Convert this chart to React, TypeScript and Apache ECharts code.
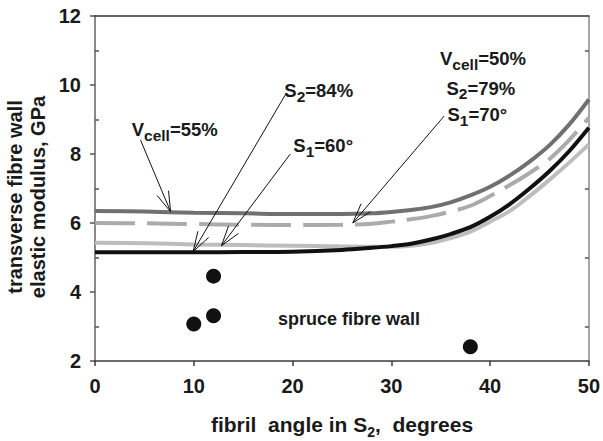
import React, { useEffect, useRef } from "react";
import * as echarts from "echarts";

// fibril angle in S2 (degrees)
const fibrilAngle = [0, 5, 10, 15, 20, 25, 28, 30, 32, 34, 36, 38, 40, 42, 44, 46, 48, 50];
// model curves: transverse elastic modulus (GPa)
const vcell55 = [6.35, 6.33, 6.3, 6.28, 6.26, 6.26, 6.28, 6.32, 6.38, 6.46, 6.6, 6.8, 7.05, 7.38, 7.78, 8.25, 8.85, 9.58];
const vcell50 = [6.0, 5.99, 5.97, 5.95, 5.94, 5.95, 5.98, 6.04, 6.11, 6.2, 6.33, 6.5, 6.78, 7.1, 7.45, 7.85, 8.4, 9.05];
const s1At60 = [5.43, 5.41, 5.38, 5.36, 5.34, 5.32, 5.31, 5.31, 5.34, 5.42, 5.56, 5.75, 6.04, 6.35, 6.78, 7.25, 7.75, 8.28];
const s2At84 = [5.15, 5.15, 5.15, 5.16, 5.17, 5.22, 5.28, 5.33, 5.4, 5.52, 5.68, 5.88, 6.18, 6.55, 7.0, 7.5, 8.08, 8.76];
// measured spruce fibre wall points
const measuredAngle = [12, 10, 12, 38];
const measuredModulus = [4.46, 3.07, 3.31, 2.41];
// annotation arrows (data coordinates)
const arrowTailX = [4.6, 19.36, 19.77, 35.35];
const arrowTailY = [8.41, 9.76, 8.0, 9.1];
const arrowHeadX = [7.65, 9.93, 12.8, 26.1];
const arrowHeadY = [6.33, 5.17, 5.34, 6.0];
// axis ticks
const xMin = 0, xMax = 50, xStep = 10;
const yMin = 2, yMax = 12, yStep = 2;

const FONT = "'Liberation Sans', Arial, Helvetica, sans-serif";
const INK = "#1a1a1a";

function richSub(mainSize: number, subSize: number, drop: number) {
  const L = 2 * (0.8465 * mainSize + drop - 0.3465 * subSize);
  return {
    m: { fontSize: mainSize, lineHeight: mainSize, verticalAlign: "top", fontWeight: "bold", fontFamily: FONT, fill: INK },
    s: { fontSize: subSize, lineHeight: L, verticalAlign: "middle", fontWeight: "bold", fontFamily: FONT, fill: INK },
  };
}

function subLabel(x: number, top: number, a: string, sub: string, b: string, mainSize = 18.5, subSize = 15.5, drop = 5) {
  return {
    type: "text",
    x,
    y: top - 0.1305 * mainSize,
    z: 20,
    silent: true,
    style: {
      text: `{m|${a}}{s|${sub}}{m|${b}}`,
      rich: richSub(mainSize, subSize, drop),
      textAlign: "left",
      textVerticalAlign: "top",
    },
  };
}

export default function App() {
  const ref = useRef<HTMLDivElement>(null);
  useEffect(() => {
    const chart = echarts.init(ref.current!, undefined, { renderer: "svg" });
    const pair = (ys: number[]) => fibrilAngle.map((x, i) => [x, ys[i]]);
    const curve = (name: string, ys: number[], color: string, dash?: number[]) => ({
      type: "line",
      name,
      data: pair(ys),
      smooth: 0.35,
      symbol: "none",
      showSymbol: false,
      lineStyle: { color, width: 4, type: dash ?? "solid", cap: "butt" },
      z: 2,
    });
    const labelStyle = { fontSize: 20, fontWeight: "bold", fontFamily: FONT, color: INK };

    chart.setOption({
      animation: false,
      backgroundColor: "#ffffff",
      grid: { left: 95, right: 13, top: 16, bottom: 80 },
      xAxis: [
        {
          type: "value",
          min: xMin,
          max: xMax,
          interval: xStep,
          position: "bottom",
          axisLine: { show: true, lineStyle: { color: "#3a3a3a", width: 1.5 } },
          axisTick: { show: true, length: 5, lineStyle: { color: "#3a3a3a", width: 1.5 } },
          axisLabel: { ...labelStyle, margin: 15 },
          splitLine: { show: false },
        },
        {
          type: "value",
          min: xMin,
          max: xMax,
          interval: xStep,
          position: "top",
          axisLine: { show: true, onZero: false, lineStyle: { color: "#333", width: 1.5 } },
          axisTick: { show: false },
          axisLabel: { show: false },
          splitLine: { show: false },
        },
      ],
      yAxis: [
        {
          type: "value",
          min: yMin,
          max: yMax,
          interval: yStep,
          position: "left",
          axisLine: { show: true, onZero: false, lineStyle: { color: "#8a8a8a", width: 2 } },
          axisTick: { show: true, length: 5, lineStyle: { color: "#555", width: 1.5 } },
          axisLabel: { ...labelStyle, margin: 14 },
          splitLine: { show: false },
        },
        {
          type: "value",
          min: yMin,
          max: yMax,
          interval: yStep,
          position: "left",
          axisLine: { show: false },
          axisTick: { show: false, inside: true },
          minorTick: { show: true, splitNumber: 2, length: 4, lineStyle: { color: "#555", width: 1.5 } },
          axisLabel: { show: false },
          splitLine: { show: false },
        },
        {
          type: "value",
          min: yMin,
          max: yMax,
          interval: yStep,
          position: "right",
          axisLine: { show: true, onZero: false, lineStyle: { color: "#8a8a8a", width: 1.5 } },
          axisTick: { show: false, inside: true },
          minorTick: { show: true, splitNumber: 2, length: 4, lineStyle: { color: "#555", width: 1.5 } },
          axisLabel: { show: false },
          splitLine: { show: false },
        },
      ],
      series: [
        curve("Vcell=55%", vcell55, "#707070"),
        curve("Vcell=50%, S2=79%, S1=70°", vcell50, "#ababab", [40, 12]),
        curve("S1=60°", s1At60, "#bdbdbd"),
        curve("S2=84%", s2At84, "#111111"),
        {
          type: "scatter",
          name: "spruce fibre wall",
          data: measuredAngle.map((x, i) => [x, measuredModulus[i]]),
          symbol: "circle",
          symbolSize: 15,
          itemStyle: { color: "#111111", opacity: 1 },
          z: 3,
        },
        {
          type: "custom",
          name: "arrows",
          silent: true,
          z: 5,
          data: arrowTailX.map((x, i) => [x, arrowTailY[i], arrowHeadX[i], arrowHeadY[i]]),
          encode: { x: [0, 2], y: [1, 3] },
          renderItem: (params: any, api: any) => {
            const p1 = api.coord([api.value(0), api.value(1)]);
            const p2 = api.coord([api.value(2), api.value(3)]);
            const ang = Math.atan2(p2[1] - p1[1], p2[0] - p1[0]);
            const L = 21;
            const a = 0.3;
            const b1 = [p2[0] - L * Math.cos(ang - a), p2[1] - L * Math.sin(ang - a)];
            const b2 = [p2[0] - L * Math.cos(ang + a), p2[1] - L * Math.sin(ang + a)];
            return {
              type: "group",
              children: [
                { type: "line", shape: { x1: p1[0], y1: p1[1], x2: p2[0], y2: p2[1] }, style: { stroke: "#111", lineWidth: 1 } },
                { type: "polyline", shape: { points: [b1, p2, b2] }, style: { stroke: "#111", fill: "none", lineWidth: 1 } },
              ],
            };
          },
        },
      ],
      graphic: [
        subLabel(131.7, 122.7, "V", "cell", "=55%"),
        subLabel(284.3, 83.3, "S", "2", "=84%"),
        subLabel(293.3, 138.3, "S", "1", "=60°"),
        subLabel(440, 51.7, "V", "cell", "=50%"),
        subLabel(446.5, 81, "S", "2", "=79%"),
        subLabel(447.5, 107.5, "S", "1", "=70°"),
        {
          type: "text",
          x: 349,
          y: 319,
          z: 20,
          silent: true,
          style: {
            text: "spruce fibre wall",
            fontSize: 18,
            fontWeight: "bold",
            fontFamily: FONT,
            fill: INK,
            textAlign: "center",
            textVerticalAlign: "middle",
          },
        },
        {
          type: "text",
          x: 342,
          y: 416.7 - 0.1305 * 21,
          z: 20,
          silent: true,
          style: {
            text: "{m|fibril  angle in S}{s|2}{m|,  degrees}",
            rich: richSub(21, 14, 5),
            textAlign: "center",
            textVerticalAlign: "top",
          },
        },
        {
          type: "text",
          x: 26.5,
          y: 197,
          rotation: Math.PI / 2,
          z: 20,
          silent: true,
          style: {
            text: "transverse fibre wall\nelastic modulus, GPa",
            fontSize: 20,
            lineHeight: 23.3,
            fontWeight: "bold",
            fontFamily: FONT,
            fill: INK,
            textAlign: "center",
            textVerticalAlign: "middle",
          },
        },
      ],
    });
    return () => chart.dispose();
  }, []);
  return <div ref={ref} style={{ position: "absolute", left: 0, top: 0, width: 603, height: 441 }} />;
}
